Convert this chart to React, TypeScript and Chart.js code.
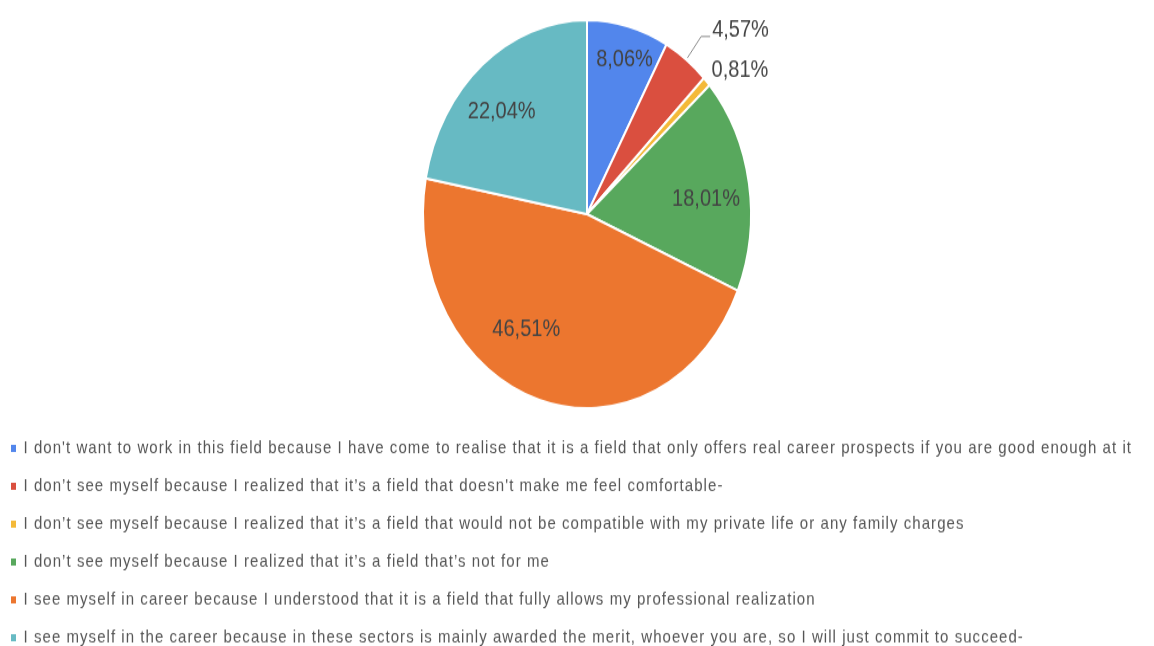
import React, { useEffect, useRef } from 'react';
import { Chart, registerables, DoughnutController } from 'chart.js';

Chart.register(...registerables);

const categories = [
  "I don't want to work in this field because I have come to realise that it is a field that only offers real career prospects if you are good enough at it",
  "I don\u2019t see myself because I realized that it\u2019s a field that doesn't make me feel comfortable-",
  "I don\u2019t see myself because I realized that it\u2019s a field that would not be compatible with my private life or any family charges",
  "I don\u2019t see myself because I realized that it\u2019s a field that\u2019s not for me",
  "I see myself in career because I understood that it is a field that fully allows my professional realization",
  "I see myself in the career because in these sectors is mainly awarded the merit, whoever you are, so I will just commit to succeed-",
];
const shares = [8.06, 4.57, 0.81, 18.01, 46.51, 22.04];
const valueLabels = ['8,06%', '4,57%', '0,81%', '18,01%', '46,51%', '22,04%'];
const sliceColors = ['#5286EC', '#DA4F3F', '#F4B938', '#58A85D', '#EC762F', '#67BAC3'];

// label placement styles
const labelModes = ['inside', 'leader', 'outside', 'inside', 'inside', 'inside'];
const labelRadiusFrac = [0.83, 1.15, 1.04, 0.73, 0.70, 0.74];
const labelAngleNudge = [1.5, 0, 0, 3, 15, -5];

const RENDER_W = 1154;
const RENDER_H = 546;
const DISPLAY_H = 646;
const LEGEND_FONT = 15;
const LEGEND_PAD = 17;
const LEGEND_X = 11;
const LEGEND_ROW0_Y = 379;
const LEGEND_LETTER_SPACING = '1.05px';

const sliceLabelPlugin = {
  id: 'sliceLabels',
  beforeDraw(chart: any) {
    (chart.ctx as any).letterSpacing = LEGEND_LETTER_SPACING;
  },
  beforeDatasetsDraw(chart: any) {
    (chart.ctx as any).letterSpacing = '0px';
  },
  afterDatasetsDraw(chart: any) {
    const ctx = chart.ctx;
    const meta = chart.getDatasetMeta(0);
    ctx.save();
    (ctx as any).letterSpacing = '0px';
    ctx.font = '20px "Liberation Sans", Arial, sans-serif';
    ctx.fillStyle = '#444444';
    meta.data.forEach((arc: any, i: number) => {
      const p = arc.getProps(['x', 'y', 'startAngle', 'endAngle', 'outerRadius'], true);
      const mid = (p.startAngle + p.endAngle) / 2 + (labelAngleNudge[i] * Math.PI) / 180;
      const r = p.outerRadius;
      const f = labelRadiusFrac[i];
      const px = p.x + Math.cos(mid) * r * f;
      const py = p.y + Math.sin(mid) * r * f;
      const mode = labelModes[i];
      if (mode === 'inside') {
        ctx.textAlign = 'center';
        ctx.textBaseline = 'middle';
        ctx.fillText(valueLabels[i], px, py);
      } else if (mode === 'leader') {
        const ex = p.x + Math.cos(mid) * (r + 2);
        const ey = p.y + Math.sin(mid) * (r + 2);
        ctx.strokeStyle = '#8a8a8a';
        ctx.lineWidth = 1;
        ctx.beginPath();
        ctx.moveTo(ex, ey);
        ctx.lineTo(px, py);
        ctx.lineTo(px + 9, py);
        ctx.stroke();
        ctx.textAlign = 'left';
        ctx.textBaseline = 'alphabetic';
        ctx.fillText(valueLabels[i], px + 11, py);
      } else {
        ctx.textAlign = 'left';
        ctx.textBaseline = 'alphabetic';
        ctx.fillText(valueLabels[i], px, py);
      }
    });
    ctx.restore();
  },
};

const legendShiftPlugin = {
  id: 'legendShift',
  afterLayout(chart: any) {
    const lg = chart.legend;
    if (!lg) return;
    const itemH = Math.max(LEGEND_FONT, 6);
    const dx = LEGEND_X - (lg.left + LEGEND_PAD);
    const dy = LEGEND_ROW0_Y - (lg.top + LEGEND_PAD + itemH / 2);
    lg.left += dx;
    lg.right = chart.width;
    lg.top += dy;
    lg.bottom = chart.height;
  },
};

export default function App() {
  const canvasRef = useRef<HTMLCanvasElement | null>(null);

  useEffect(() => {
    document.body.style.margin = '0';
    const canvas = canvasRef.current;
    if (!canvas) return;
    const baseGen = (DoughnutController as any).overrides.plugins.legend.labels.generateLabels;
    const chart = new Chart(canvas, {
      type: 'pie',
      data: {
        labels: categories,
        datasets: [
          {
            data: shares,
            backgroundColor: sliceColors,
            borderColor: '#ffffff',
            borderWidth: 2,
            radius: 164,
          } as any,
        ],
      },
      options: {
        responsive: false,
        animation: false,
        layout: { padding: { top: 18, left: 20, right: 0, bottom: 0 } },
        plugins: {
          tooltip: { enabled: false },
          legend: {
            position: 'bottom',
            align: 'start',
            labels: {
              boxWidth: 5,
              boxHeight: 6,
              padding: LEGEND_PAD,
              color: '#555555',
              font: { size: LEGEND_FONT, family: '"Liberation Sans", Arial, sans-serif' },
              generateLabels: (c: any) =>
                baseGen(c).map((l: any) => ({ ...l, lineWidth: 0, strokeStyle: 'rgba(0,0,0,0)' })),
            },
          },
        },
      },
      plugins: [sliceLabelPlugin, legendShiftPlugin],
    });
    return () => chart.destroy();
  }, []);

  return (
    <div style={{ position: 'absolute', left: 0, top: 0, width: RENDER_W, height: DISPLAY_H, background: '#fff' }}>
      <canvas
        ref={canvasRef}
        width={RENDER_W}
        height={RENDER_H}
        style={{ width: `${RENDER_W}px`, height: `${DISPLAY_H}px`, display: 'block' }}
      />
    </div>
  );
}
